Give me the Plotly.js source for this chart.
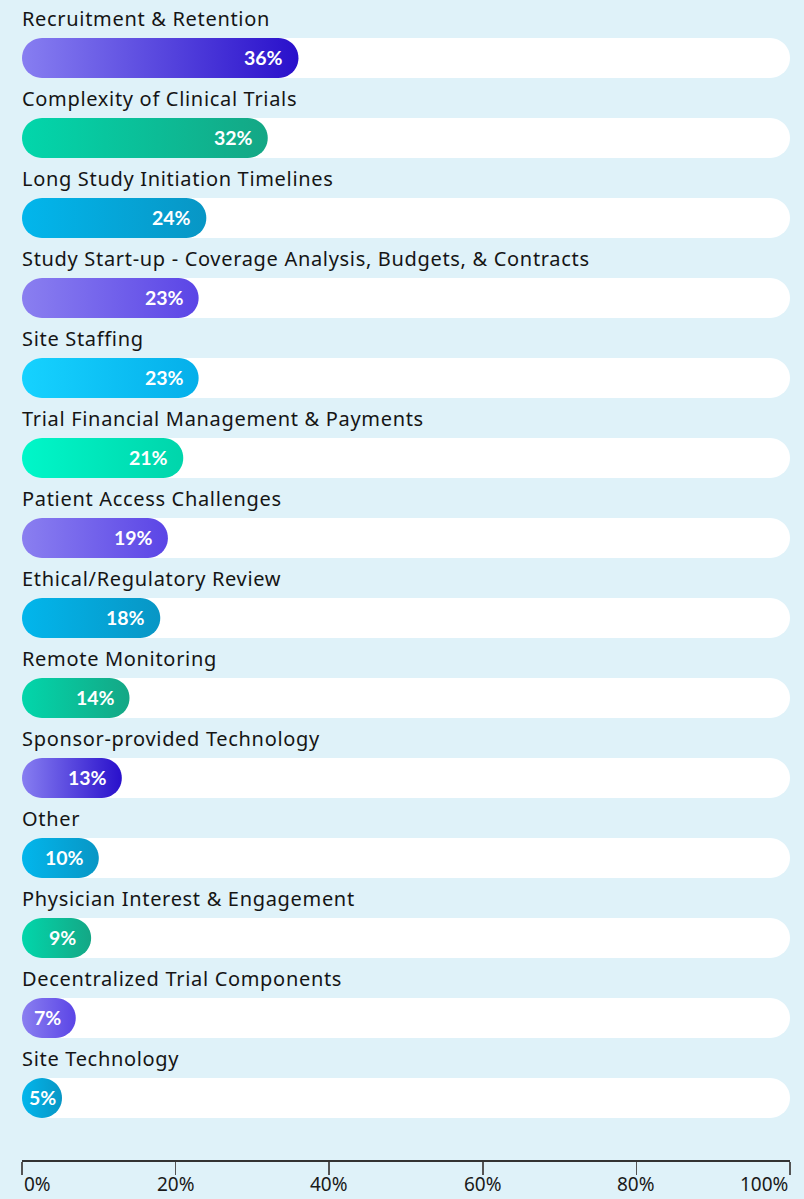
<!DOCTYPE html>
<html>
<head>
<meta charset="utf-8">
<script src="https://cdn.plot.ly/plotly-3.0.1.min.js"></script>
<style>
  html, body { margin: 0; padding: 0; background: #dff2f9; }
  #chart { width: 804px; height: 1199px; }
</style>
</head>
<body>
<div id="chart"></div>
<script>
// ---- data ----
const categories = [
  "Recruitment & Retention",
  "Complexity of Clinical Trials",
  "Long Study Initiation Timelines",
  "Study Start-up - Coverage Analysis, Budgets, & Contracts",
  "Site Staffing",
  "Trial Financial Management & Payments",
  "Patient Access Challenges",
  "Ethical/Regulatory Review",
  "Remote Monitoring",
  "Sponsor-provided Technology",
  "Other",
  "Physician Interest & Engagement",
  "Decentralized Trial Components",
  "Site Technology"
];
const values = [36, 32, 24, 23, 23, 21, 19, 18, 14, 13, 10, 9, 7, 5];
const colorGroups = ["indigo", "teal", "blue", "violet", "cyan", "mint", "violet", "blue", "teal", "indigo", "blue", "teal", "violet", "blue"];
const tickValues = [0, 20, 40, 60, 80, 100];
const tickLabels = ["0%", "20%", "40%", "60%", "80%", "100%"];

// ---- styles ----
const palette = {
  indigo: ["#877ef1", "#2910cb"],
  violet: ["#8a7ff0", "#5b45e6"],
  teal:   ["#02d6ab", "#14a785"],
  mint:   ["#00f7c9", "#00d5ab"],
  blue:   ["#02b6ec", "#0896c5"],
  cyan:   ["#16d2ff", "#05afea"]
};
const W = 804, H = 1199;
const M = {l: 22, r: 14, t: 0, b: 39};
const yRange = [13.775, -0.725];
const barHalfPx = 20;
const pxPerX = (W - M.l - M.r) / 100;
const pxPerY = (H - M.t - M.b) / Math.abs(yRange[0] - yRange[1]);
const rx = barHalfPx / pxPerX;
const ry = barHalfPx / pxPerY;

function pill(x0, x1, yc) {
  const xs = [], ys = [];
  if (x1 - x0 < 2 * rx) x1 = x0 + 2 * rx;
  const n = 24;
  for (let k = 0; k <= n; k++) {
    const a = -Math.PI / 2 + Math.PI * k / n;
    xs.push(x1 - rx + rx * Math.cos(a));
    ys.push(yc + ry * Math.sin(a));
  }
  for (let k = 0; k <= n; k++) {
    const a = Math.PI / 2 + Math.PI * k / n;
    xs.push(x0 + rx + rx * Math.cos(a));
    ys.push(yc + ry * Math.sin(a));
  }
  xs.push(xs[0]); ys.push(ys[0]);
  return {xs, ys};
}

const traces = [];
const annotations = [];
const labelFont = "'Noto Sans', 'Open Sans', sans-serif";
const valueFont = "Lato, 'Noto Sans', sans-serif";

categories.forEach((cat, i) => {
  const track = pill(0, 100, i);
  traces.push({
    type: "scatter", mode: "none", x: track.xs, y: track.ys,
    fill: "toself", fillcolor: "#ffffff", hoverinfo: "skip", showlegend: false
  });
  const v = values[i];
  const bar = pill(0, v, i);
  const cols = palette[colorGroups[i]];
  traces.push({
    type: "scatter", mode: "none", x: bar.xs, y: bar.ys,
    fill: "toself",
    fillgradient: {type: "horizontal", colorscale: [[0, cols[0]], [1, cols[1]]]},
    hoverinfo: "skip", showlegend: false
  });
  // category label
  annotations.push({
    x: 0, y: i - 0.5, xref: "x", yref: "y", xanchor: "left", yanchor: "middle",
    text: cat, showarrow: false, xshift: -2,
    font: {family: labelFont, size: 20, color: "#151515"}
  });
  // value label
  const small = v < 2 * rx + 0.5;
  annotations.push({
    x: small ? rx : v, y: i, xref: "x", yref: "y",
    xanchor: small ? "center" : "right", yanchor: "middle",
    xshift: small ? 0 : -13, yshift: 1,
    text: "<b>" + v + "%</b>", showarrow: false,
    font: {family: valueFont, size: 19.5, color: "#ffffff"}
  });
});

tickValues.forEach((t, k) => {
  const anchor = k === 0 ? "left" : (k === tickValues.length - 1 ? "right" : "center");
  annotations.push({
    x: t, y: 0, xref: "x", yref: "paper", xanchor: anchor, yanchor: "bottom",
    yshift: -38.5, text: tickLabels[k], showarrow: false,
    font: {family: labelFont, size: 19, color: "#1a1a1a"}
  });
});

const layout = {
  width: W, height: H,
  margin: M,
  paper_bgcolor: "#dff2f9",
  plot_bgcolor: "#dff2f9",
  showlegend: false,
  xaxis: {
    range: [0, 100], tickvals: tickValues, ticktext: tickLabels,
    showticklabels: false, showgrid: false, zeroline: false,
    showline: true, linecolor: "#333333", linewidth: 1.5,
    ticks: "outside", ticklen: 13, tickwidth: 1.5, tickcolor: "#555555",
    fixedrange: true
  },
  yaxis: {
    range: yRange, visible: false, showgrid: false, zeroline: false, fixedrange: true
  },
  annotations: annotations
};

Plotly.newPlot("chart", traces, layout, {displayModeBar: false, staticPlot: true}).then(gd => {
  // widen category labels slightly to match the reference typeface, keeping the left edge fixed
  gd.querySelectorAll("g.annotation").forEach(g => {
    const idx = +g.getAttribute("data-index");
    if (idx < 2 * categories.length && idx % 2 === 0) {
      const t = g.querySelector("text.annotation-text");
      if (!t) return;
      const b0 = t.getBBox();
      t.style.letterSpacing = "0.68px";
      const b1 = t.getBBox();
      const x0 = parseFloat(t.getAttribute("x")) || 0;
      t.setAttribute("x", x0 + (b0.x - b1.x));
    }
  });
});
</script>
</body>
</html>
